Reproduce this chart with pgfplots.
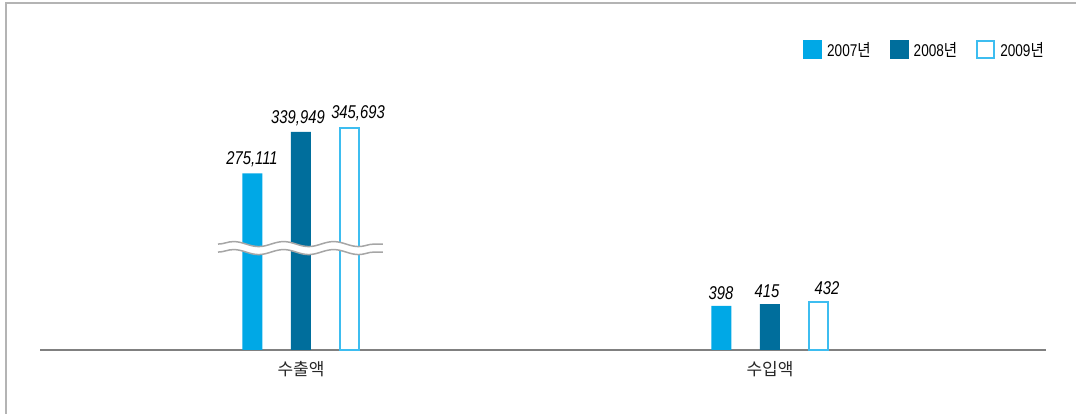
\documentclass[border=0pt]{standalone}
\usepackage{fontspec}
\usepackage{pgfplots}
\pgfplotsset{compat=1.18}
\usetikzlibrary{decorations.pathmorphing}
\setmainfont{Liberation Sans}
\newfontfamily\cond[FakeStretch=0.8]{Liberation Sans}
\newfontfamily\kr{Noto Sans CJK KR}
\newfontfamily\krc[FakeStretch=0.85]{Noto Sans CJK KR}

\definecolor{c2007}{HTML}{00A8E6}
\definecolor{c2008}{HTML}{006E9C}
\definecolor{c2009}{HTML}{3DBDF0}
\definecolor{framegray}{HTML}{B4B4B4}
\definecolor{axisgray}{HTML}{808080}

\pgfplotsset{
  sqfill/.style={legend image code/.code={\fill[#1] (0pt,-9.5pt) rectangle (19pt,9.5pt);}},
  sqline/.style={legend image code/.code={\draw[draw=#1, fill=white, line width=2pt] (1pt,-8.5pt) rectangle (18pt,8.5pt);}},
  shiftlabel/.style={every node near coord/.append style={xshift=#1}},
}
\tikzset{wave/.style={decorate, decoration={snake, amplitude=2.5pt, segment length=50pt}}}

\begin{document}
\begin{tikzpicture}[x=1pt,y=1pt]
\path[use as bounding box] (0,0) rectangle (1076,414);
\draw[framegray, line width=1.5pt] (6,0) -- (6,411) -- (1076,411);
\begin{axis}[
  at={(40pt,64pt)}, anchor=south west,
  scale only axis, width=1006pt, height=300pt,
  xmin=-0.5565, xmax=1.5885, ymin=0, ymax=2708,
  clip=false,
  hide y axis,
  axis x line*=bottom,
  x axis line style={-, draw=axisgray, line width=2pt},
  xtick={0,1}, xticklabels={수출액,수입액},
  xtick style={draw=none},
  xticklabel style={font=\kr\fontsize{17}{19}\selectfont, text=black!85, inner sep=0pt, anchor=north, yshift=-11pt},
  % broken axis: big export values are scaled down
  y filter/.expression={y>10000 ? y*0.005794 : y},
  point meta=rawy,
  nodes near coords,
  every node near coord/.append style={font=\cond\itshape\fontsize{18.5}{21}\selectfont, anchor=south, inner sep=0pt, yshift=6pt},
  /pgf/number format/fixed,
  /pgf/number format/precision=0,
  /pgf/number format/1000 sep={,},
  /pgf/number format/assume math mode=true,
  legend columns=3,
  legend style={draw=none, fill=none, at={(axis description cs:1,1)}, anchor=east, inner sep=0pt,
    font=\cond\fontsize{17}{19}\selectfont,
    /tikz/every odd column/.append style={column sep=3pt},
    /tikz/every even column/.append style={column sep=17pt}},
]
\addplot[ybar, bar width=20pt, bar shift=-48.5pt, fill=c2007, draw=none, sqfill=c2007, shiftlabel=-49pt] coordinates {(0,275111) (1,398)};
\addplot[ybar, bar width=20pt, bar shift=0pt, fill=c2008, draw=none, sqfill=c2008, shiftlabel=-3pt] coordinates {(0,339949) (1,415)};
\addplot[ybar, bar width=19pt, bar shift=48.5pt, fill=white, draw=c2009, line width=2pt, sqline=c2009, shiftlabel=57pt] coordinates {(0,345693) (1,432)};
\legend{2007{\krc 년}, 2008{\krc 년}, 2009{\krc 년}}

\draw[white, line width=8pt, wave] (axis cs:-0.177,920) -- (axis cs:0.1748,920);
\draw[gray!70, line width=1.5pt, wave] ([yshift=4pt]axis cs:-0.177,920) -- ([yshift=4pt]axis cs:0.1748,920);
\draw[gray!70, line width=1.5pt, wave] ([yshift=-4pt]axis cs:-0.177,920) -- ([yshift=-4pt]axis cs:0.1748,920);
\end{axis}
\end{tikzpicture}
\end{document}
